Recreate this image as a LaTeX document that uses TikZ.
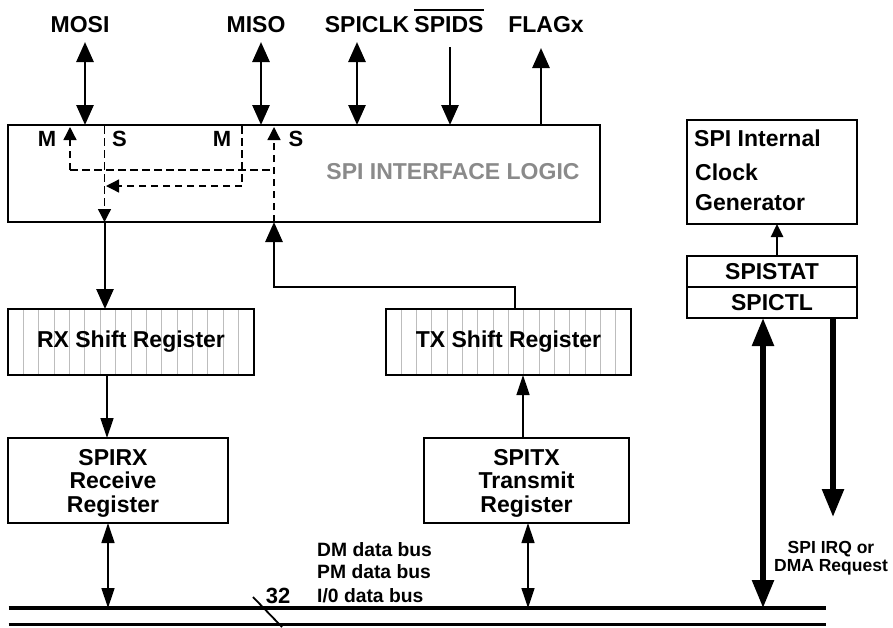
\documentclass[tikz,border=0pt]{standalone}
\usepackage{fontspec}
\setmainfont{Liberation Sans}
\usetikzlibrary{arrows.meta,calc,backgrounds}
\definecolor{spigray}{HTML}{8A8A8A}
\definecolor{hatchgray}{HTML}{BDBDBD}
\begin{document}
\begin{tikzpicture}[x=1pt,y=-1pt,
  box/.style={draw, line width=2.6pt, inner sep=0pt, outer sep=0pt, align=center, font=\fontsize{23}{25.5}\selectfont\bfseries},
  boxtext/.style={inner sep=0pt, align=center, font=\fontsize{23}{23.5}\selectfont\bfseries},
  lab/.style={anchor=base, inner sep=0pt, font=\fontsize{23}{25.5}\selectfont\bfseries},
  mslab/.style={anchor=base, inner sep=0pt, font=\fontsize{22}{24}\selectfont\bfseries},
  smalltext/.style={inner sep=0pt, font=\fontsize{19.3}{23}\selectfont\bfseries},
  bigT/.tip={Triangle[length=28pt,width=21pt]},
  midT/.tip={Triangle[length=20pt,width=17pt]},
  thinT/.tip={Triangle[length=20pt,width=13pt]},
  smT/.tip={Triangle[length=13pt,width=12pt]},
  dT/.tip={Triangle[length=13pt,width=13pt]},
  sig/.style={line width=2.8pt},
  thinline/.style={line width=1.3pt},
  thickline/.style={line width=5.5pt},
  dsh/.style={line width=1.3pt, dash pattern=on 7.5pt off 4.5pt},
  hatch/.style={draw=hatchgray, line width=0.9pt},
  bus/.style={line width=3.2pt}]
\useasboundingbox (0,0) rectangle (893,627);

% boxes
\node[box, minimum width=592pt, minimum height=97pt] (spi) at (304,173.5) {};
\node[inner sep=0pt, text=spigray, font=\fontsize{23}{25}\selectfont\bfseries] (spitext) at (453,172) {SPI INTERFACE LOGIC};
\node[box, minimum width=246pt, minimum height=66pt] (rxsr) at (131,342) {RX Shift Register};
\node[box, minimum width=245pt, minimum height=66pt] (txsr) at (508.5,342) {TX Shift Register};
\node[box, minimum width=220pt, minimum height=85pt] (spirx) at (118,480.5) {};
\node[boxtext] (spirxtext) at (113,483) {SPIRX\\Receive\\Register};
\node[box, minimum width=205pt, minimum height=85pt] (spitx) at (526.5,480.5) {};
\node[boxtext] (spitxtext) at (526.5,483) {SPITX\\Transmit\\Register};
\node[box, minimum width=170pt, minimum height=104pt] (clk) at (772,172) {};
\node[lab, anchor=base west] (clk1) at (694,146) {SPI Internal};
\node[lab, anchor=base west] (clk2) at (695,180) {Clock};
\node[lab, anchor=base west] (clk3) at (695,210) {Generator};
\node[box, minimum width=170pt, minimum height=31pt] (stat) at (772,271.5) {SPISTAT};
\node[box, minimum width=170pt, minimum height=31pt] (ctl) at (772,302.5) {SPICTL};

% hatching of shift registers
\begin{scope}[on background layer]
\foreach \k in {1,...,15}{
  \draw[hatch] ($(rxsr.north west)!\k/16!(rxsr.north east)$) -- ($(rxsr.south west)!\k/16!(rxsr.south east)$);
  \draw[hatch] ($(txsr.north west)!\k/16!(txsr.north east)$) -- ($(txsr.south west)!\k/16!(txsr.south east)$);
}
\end{scope}

% top labels
\node[lab] (mosi) at (80,32) {MOSI};
\node[lab] (miso) at (256,32) {MISO};
\node[lab] (spiclk) at (367,32) {SPICLK};
\node[lab] (spids) at (449,32) {\vbox{\hrule height 2pt\kern 5pt\hbox{SPIDS}}};
\node[lab] (flagx) at (546,32) {FLAGx};

% top signal arrows
\coordinate (mosiT) at (85,42);
\coordinate (misoT) at (261,42);
\coordinate (clkT) at (357,42);
\coordinate (dsT) at (450,47);
\coordinate (flT) at (541,48);
\draw[sig,{midT}-{midT}] (mosiT) -- (mosiT |- spi.north);
\draw[sig,{midT}-{midT}] (misoT) -- (misoT |- spi.north);
\draw[sig,{midT}-{midT}] (clkT) -- (clkT |- spi.north);
\draw[sig,-{midT}] (dsT) -- (dsT |- spi.north);
\draw[sig,-{midT}] (flT |- spi.north) -- (flT);

% M / S labels
\node[mslab] (m1) at (47,146) {M};
\node[mslab] (s1) at (119.5,146) {S};
\node[mslab] (m2) at (222,146) {M};
\node[mslab] (s2) at (296,146) {S};

% internal dashed routing
\draw[dsh,-{dT}] (70,170) -- (70,127);
\draw[dsh] (70,170) -- (274,170);
\draw[dsh,-{dT}] (274,222) -- (274,127);
\draw[dsh,-{dT}] (104.5,126) -- (104.5,222);
\draw[dsh,-{dT}] (242,126) -- (242,186) -- (106,186);

% connections between blocks
\coordinate (rxin) at (105,0);
\draw[sig,-{midT}] (rxin |- spi.south) -- (rxin |- rxsr.north);
\coordinate (txc) at (515,287);
\coordinate (txup) at (274,287);
\draw[sig,-{midT}] (txc |- txsr.north) -- (txc) -- (txup) -- (txup |- spi.south);
\coordinate (rxo) at (107,0);
\draw[thinline,-{thinT}] (rxo |- rxsr.south) -- (rxo |- spirx.north);
\coordinate (txi) at (523,0);
\draw[thinline,-{thinT}] (txi |- spitx.north) -- (txi |- txsr.south);

% buses
\coordinate (busAL) at (8.5,608);
\coordinate (busAR) at (826,608);
\coordinate (busBL) at (8.5,624.5);
\coordinate (busBR) at (826,624.5);
\draw[bus] (busAL) -- (busAR);
\draw[bus] (busBL) -- (busBR);
\coordinate (slA) at (253,597);
\coordinate (slB) at (282,627);
\draw[line width=1.8pt] (slA) -- (slB);

\coordinate (rxb) at (108,0);
\draw[thinline,{thinT}-{thinT}] (rxb |- spirx.south) -- (rxb |- busAL);
\coordinate (txb) at (528,0);
\draw[thinline,{thinT}-{thinT}] (txb |- spitx.south) -- (txb |- busAL);

\coordinate (ctlA) at (763,0);
\draw[thickline,{bigT}-{bigT}] (ctlA |- ctl.south) -- (ctlA |- busAL);
\coordinate (irq) at (833,517);
\draw[thickline,-{bigT}] (irq |- ctl.south) -- (irq);
\coordinate (clkA) at (777,0);
\draw[line width=2.5pt,-{smT}] (clkA |- stat.north) -- (clkA |- clk.south);

% bus texts
\node[smalltext, anchor=base west] (bus1) at (317,556) {DM data bus};
\node[smalltext, anchor=base west] (bus2) at (317,578) {PM data bus};
\node[smalltext, anchor=base west] (bus3) at (317,602) {I/0 data bus};
\node[inner sep=0pt, anchor=base, font=\fontsize{22}{24}\selectfont\bfseries] (n32) at (278,603) {32};
\node[inner sep=0pt, align=center, font=\fontsize{17.5}{17.5}\selectfont\bfseries] (irqt) at (831,558) {SPI IRQ or\\DMA Request};
\end{tikzpicture}
\end{document}
